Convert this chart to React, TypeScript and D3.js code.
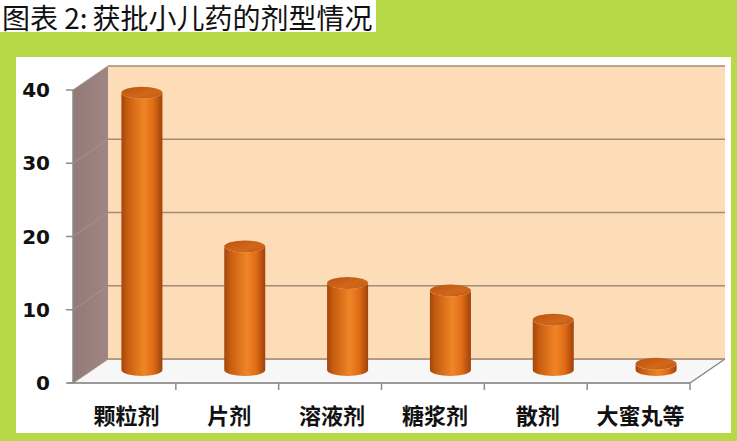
import React from 'react';
import * as d3 from 'd3';

const categories = ['颗粒剂', '片剂', '溶液剂', '糖浆剂', '散剂', '大蜜丸等'];
const values = [38, 17, 12, 11, 7, 1];
const yTicks = [0, 10, 20, 30, 40];
const titleA = '图表 2:';
const titleB = '获批小儿药的剂型情况';

export default function App() {
  const W = 737, H = 441;
  const x0 = 73, x1 = 690, yBase = 383, yTop = 90;
  const dx = 35, dy = -24;
  const x = d3.scaleBand<string>().domain(categories).range([x0, x1]);
  const y = d3.scaleLinear().domain([0, 40]).range([yBase, yTop]);
  const bw = x.bandwidth();
  const rx = 20.5, ry = 6;
  const y0 = y(0), yMax = y(40);
  const pts = (a: [number, number][]) => a.map(p => p.join(',')).join(' ');

  return (
    <svg width={W} height={H} style={{ position: 'absolute', left: 0, top: 0 }} xmlns="http://www.w3.org/2000/svg">
      <defs>
        <linearGradient id="body" x1="0" x2="1" y1="0" y2="0">
          <stop offset="0" stopColor="#a5450b" />
          <stop offset="0.15" stopColor="#c65d10" />
          <stop offset="0.55" stopColor="#f08526" />
          <stop offset="0.78" stopColor="#e06c16" />
          <stop offset="1" stopColor="#9f420a" />
        </linearGradient>
        <linearGradient id="topg" x1="0" x2="1" y1="0" y2="1">
          <stop offset="0" stopColor="#b9560f" />
          <stop offset="0.6" stopColor="#d0671b" />
          <stop offset="1" stopColor="#c05a12" />
        </linearGradient>
        <linearGradient id="side" x1="0" x2="1" y1="0" y2="0">
          <stop offset="0" stopColor="#947a76" />
          <stop offset="1" stopColor="#a08682" />
        </linearGradient>
      </defs>
      <rect x={0} y={0} width={W} height={H} fill="#b7d948" />
      <rect x={0} y={0} width={376} height={32} fill="#ffffff" />
      <text x={2} y={29} fontFamily="'Noto Sans CJK SC', sans-serif" fontSize={28} fill="#111">
        {titleA}<tspan dx={5}>{titleB}</tspan>
      </text>
      <rect x={16} y={57} width={715} height={376} fill="#ffffff" />

      {/* floor */}
      <polygon points={pts([[x0, y0], [x0 + dx, y0 + dy], [x1 + dx, y0 + dy], [x1, y0]])} fill="#f7f7f7" stroke="#9a9a9a" strokeWidth={1} />
      {/* back wall */}
      <polygon points={pts([[x0 + dx, yMax + dy], [x1 + dx, yMax + dy], [x1 + dx, y0 + dy], [x0 + dx, y0 + dy]])} fill="#fddcb8" />
      {/* side wall */}
      <polygon points={pts([[x0, yMax], [x0 + dx, yMax + dy], [x0 + dx, y0 + dy], [x0, y0]])} fill="url(#side)" />

      {/* gridlines */}
      {yTicks.map(t => (
        <g key={t}>
          <line x1={x0 + dx} x2={x1 + dx} y1={y(t) + dy} y2={y(t) + dy} stroke="#a38b75" strokeWidth={1.5} />
          <line x1={x0} x2={x0 + dx} y1={y(t)} y2={y(t) + dy} stroke="#a89290" strokeWidth={1} />
        </g>
      ))}
      <line x1={x1} x2={x1 + dx} y1={y0} y2={y0 + dy} stroke="#8a8a8a" strokeWidth={1.2} />

      {/* axes */}
      <line x1={x0} x2={x0} y1={yMax} y2={y0} stroke="#8a8a8a" strokeWidth={1.5} />
      <line x1={x0 - 5} x2={x1} y1={y0} y2={y0} stroke="#8a8a8a" strokeWidth={1.5} />
      {yTicks.map(t => (
        <g key={'yt' + t}>
          <line x1={x0 - 7} x2={x0} y1={y(t)} y2={y(t)} stroke="#8a8a8a" strokeWidth={1.5} />
          <text x={x0 - 23} y={y(t) + 7} textAnchor="end" fontFamily="'DejaVu Sans', sans-serif" fontWeight="bold" fontSize={20} fill="#111">{t}</text>
        </g>
      ))}
      {categories.map((c, i) => (
        <line key={'xt' + i} x1={(x(c) as number) + bw} x2={(x(c) as number) + bw} y1={y0} y2={y0 + 7} stroke="#8a8a8a" strokeWidth={1.5} />
      ))}
      {categories.map(c => (
        <text key={'xl' + c} x={(x(c) as number) + bw / 2 + 2} y={424} textAnchor="middle" fontFamily="'Noto Sans CJK SC', sans-serif" fontWeight="bold" fontSize={22} fill="#111">{c}</text>
      ))}

      {/* cylinders */}
      {categories.map((c, i) => {
        const cx = (x(c) as number) + bw / 2 + dx / 2;
        const by = y0 + dy / 2 - 1;
        const ty = y(values[i]) + dy / 2;
        const d = `M${cx - rx},${ty} L${cx - rx},${by} A${rx},${ry} 0 0 0 ${cx + rx},${by} L${cx + rx},${ty} A${rx},${ry} 0 0 1 ${cx - rx},${ty} Z`;
        return (
          <g key={'b' + c}>
            <path d={d} fill="url(#body)" />
            <ellipse cx={cx} cy={ty} rx={rx} ry={ry} fill="url(#topg)" />
          </g>
        );
      })}
    </svg>
  );
}
